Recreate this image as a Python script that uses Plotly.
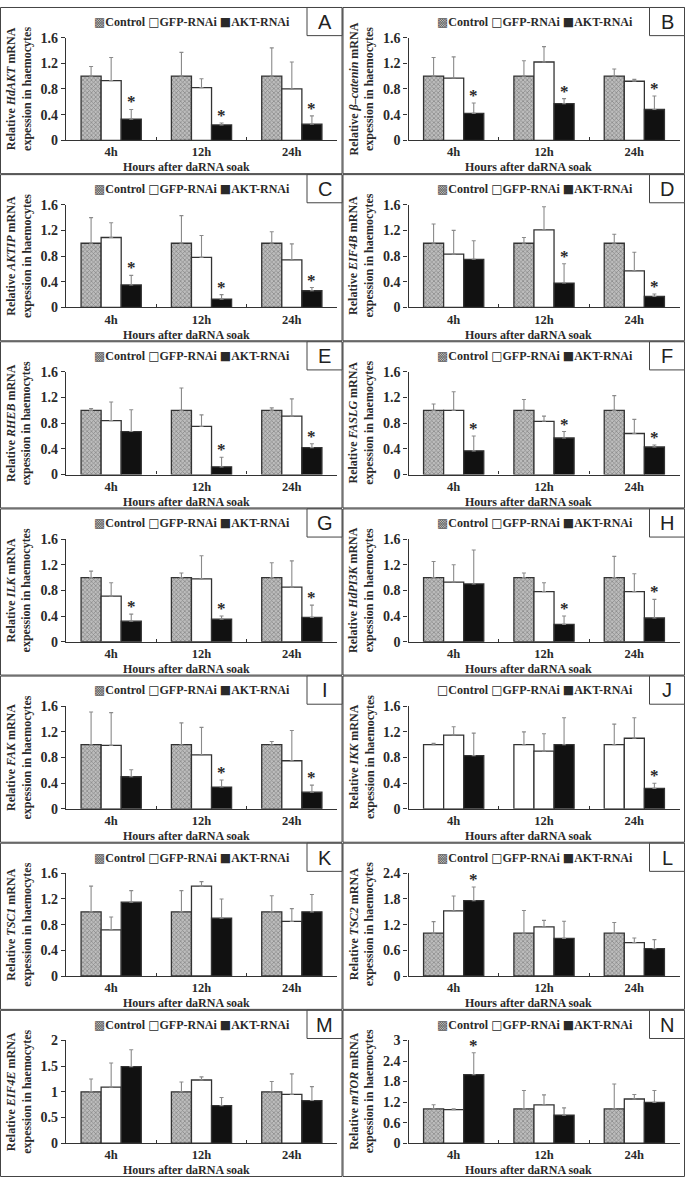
import plotly.graph_objects as go

hours = ["4h", "12h", "24h"]
groups = ["Control", "GFP-RNAi", "AKT-RNAi"]
panel_letters = ["A", "B", "C", "D", "E", "F", "G", "H", "I", "J", "K", "L", "M", "N"]
genes = ["HdAKT", "β–catenin", "AKTIP", "EIF4B", "RHEB", "FASLG", "ILK",
         "HdPI3K", "FAK", "IKK", "TSC1", "TSC2", "EIF4E", "mTOR"]
y_max = [1.6, 1.6, 1.6, 1.6, 1.6, 1.6, 1.6, 1.6, 1.6, 1.6, 1.6, 2.4, 2.0, 3.0]
y_dtick = [0.4, 0.4, 0.4, 0.4, 0.4, 0.4, 0.4, 0.4, 0.4, 0.4, 0.4, 0.6, 0.5, 0.6]

# mean relative expression (Control is the reference = 1)
A_ctrl = [1.0, 1.0, 1.0]; A_gfp = [0.93, 0.82, 0.80]; A_akt = [0.33, 0.24, 0.25]
B_ctrl = [1.0, 1.0, 1.0]; B_gfp = [0.97, 1.22, 0.92]; B_akt = [0.42, 0.57, 0.48]
C_ctrl = [1.0, 1.0, 1.0]; C_gfp = [1.09, 0.78, 0.74]; C_akt = [0.35, 0.13, 0.26]
D_ctrl = [1.0, 1.0, 1.0]; D_gfp = [0.83, 1.21, 0.57]; D_akt = [0.75, 0.38, 0.17]
E_ctrl = [1.0, 1.0, 1.0]; E_gfp = [0.84, 0.75, 0.91]; E_akt = [0.67, 0.12, 0.42]
F_ctrl = [1.0, 1.0, 1.0]; F_gfp = [1.00, 0.83, 0.64]; F_akt = [0.37, 0.57, 0.43]
G_ctrl = [1.0, 1.0, 1.0]; G_gfp = [0.71, 0.98, 0.85]; G_akt = [0.32, 0.35, 0.38]
H_ctrl = [1.0, 1.0, 1.0]; H_gfp = [0.93, 0.78, 0.78]; H_akt = [0.90, 0.27, 0.37]
I_ctrl = [1.0, 1.0, 1.0]; I_gfp = [0.99, 0.84, 0.75]; I_akt = [0.50, 0.34, 0.26]
J_ctrl = [1.0, 1.0, 1.0]; J_gfp = [1.15, 0.90, 1.10]; J_akt = [0.83, 1.00, 0.32]
K_ctrl = [1.0, 1.0, 1.0]; K_gfp = [0.72, 1.40, 0.85]; K_akt = [1.15, 0.90, 1.00]
L_ctrl = [1.0, 1.0, 1.0]; L_gfp = [1.52, 1.15, 0.78]; L_akt = [1.76, 0.88, 0.64]
M_ctrl = [1.0, 1.0, 1.0]; M_gfp = [1.09, 1.23, 0.95]; M_akt = [1.49, 0.73, 0.83]
N_ctrl = [1.0, 1.0, 1.0]; N_gfp = [0.98, 1.12, 1.29]; N_akt = [2.00, 0.82, 1.19]

# standard deviations (upper error bars)
A_ctrl_sd = [0.15, 0.37, 0.44]; A_gfp_sd = [0.36, 0.14, 0.42]; A_akt_sd = [0.15, 0.03, 0.13]
B_ctrl_sd = [0.29, 0.24, 0.11]; B_gfp_sd = [0.33, 0.24, 0.03]; B_akt_sd = [0.16, 0.08, 0.21]
C_ctrl_sd = [0.40, 0.43, 0.18]; C_gfp_sd = [0.23, 0.34, 0.25]; C_akt_sd = [0.15, 0.07, 0.05]
D_ctrl_sd = [0.30, 0.09, 0.14]; D_gfp_sd = [0.37, 0.36, 0.29]; D_akt_sd = [0.29, 0.30, 0.04]
E_ctrl_sd = [0.03, 0.35, 0.04]; E_gfp_sd = [0.29, 0.18, 0.27]; E_akt_sd = [0.34, 0.15, 0.06]
F_ctrl_sd = [0.10, 0.17, 0.23]; F_gfp_sd = [0.29, 0.08, 0.22]; F_akt_sd = [0.23, 0.10, 0.03]
G_ctrl_sd = [0.10, 0.07, 0.23]; G_gfp_sd = [0.21, 0.36, 0.41]; G_akt_sd = [0.11, 0.05, 0.19]
H_ctrl_sd = [0.25, 0.07, 0.33]; H_gfp_sd = [0.27, 0.14, 0.28]; H_akt_sd = [0.53, 0.13, 0.29]
I_ctrl_sd = [0.51, 0.34, 0.05]; I_gfp_sd = [0.51, 0.43, 0.47]; I_akt_sd = [0.11, 0.11, 0.11]
J_ctrl_sd = [0.02, 0.20, 0.32]; J_gfp_sd = [0.13, 0.27, 0.32]; J_akt_sd = [0.35, 0.42, 0.08]
K_ctrl_sd = [0.40, 0.33, 0.25]; K_gfp_sd = [0.20, 0.07, 0.20]; K_akt_sd = [0.18, 0.30, 0.27]
L_ctrl_sd = [0.27, 0.53, 0.25]; L_gfp_sd = [0.35, 0.15, 0.11]; L_akt_sd = [0.32, 0.40, 0.21]
M_ctrl_sd = [0.25, 0.19, 0.20]; M_gfp_sd = [0.47, 0.06, 0.40]; M_akt_sd = [0.33, 0.16, 0.27]
N_ctrl_sd = [0.12, 0.54, 0.73]; N_gfp_sd = [0.02, 0.29, 0.13]; N_akt_sd = [0.64, 0.21, 0.35]

# significance (*) of AKT-RNAi vs controls
A_sig = [1, 1, 1]; B_sig = [1, 1, 1]; C_sig = [1, 1, 1]; D_sig = [0, 1, 1]
E_sig = [0, 1, 1]; F_sig = [1, 1, 1]; G_sig = [1, 1, 1]; H_sig = [0, 1, 1]
I_sig = [0, 1, 1]; J_sig = [0, 0, 1]; K_sig = [0, 0, 0]; L_sig = [1, 0, 0]
M_sig = [0, 0, 0]; N_sig = [1, 0, 0]

g = globals()
W, H = 685, 1185
PW, PH = W / 2, H / 7
SERIF = "Liberation Serif, Times New Roman, serif"
SANS = "Liberation Sans, Arial, sans-serif"
SYM = "DejaVu Sans"
INK = "#2a2a2a"

fig = go.Figure()
shapes, annotations = [], []
layout = dict(width=W, height=H, margin=dict(l=0, r=0, t=0, b=0),
              paper_bgcolor="white", plot_bgcolor="white",
              barmode="group", bargap=1 / 3, bargroupgap=0.0, showlegend=False,
              font=dict(family=SERIF, color=INK))

for k, letter in enumerate(panel_letters):
    r, c = divmod(k, 2)
    x0, y0 = c * PW, r * PH
    n = k + 1
    sfx = "" if n == 1 else str(n)
    xa, ya = "x" + sfx, "y" + sfx

    means = [g[letter + "_ctrl"], g[letter + "_gfp"], g[letter + "_akt"]]
    sds = [g[letter + "_ctrl_sd"], g[letter + "_gfp_sd"], g[letter + "_akt_sd"]]
    sig = g[letter + "_sig"]

    plain_ctrl = (letter == "J")
    for gi, name in enumerate(groups):
        if gi == 0 and not plain_ctrl:
            marker = dict(color="#b4b4b4",
                          pattern=dict(shape="x", fgcolor="#4a4a4a", bgcolor="#bdbdbd",
                                       size=3, solidity=0.4),
                          line=dict(color="#333", width=1.3))
        elif gi == 2:
            marker = dict(color="#111", line=dict(color="#333", width=1.3))
        else:
            marker = dict(color="white", line=dict(color="#333", width=1.3))
        fig.add_trace(go.Bar(
            x=hours, y=means[gi], name=name, marker=marker,
            error_y=dict(type="data", symmetric=False, array=sds[gi],
                         arrayminus=[0, 0, 0], color="#8a8a8a", thickness=1.1, width=2),
            xaxis=xa, yaxis=ya))

    # domains
    dx = [(x0 + 66) / W, (x0 + 337) / W]
    dy = [1 - (y0 + 135) / H, 1 - (y0 + 31) / H]
    layout["xaxis" + sfx] = dict(
        domain=dx, anchor=ya, type="category", range=[-0.5, 2.5],
        showline=True, linecolor="#333", linewidth=1.4,
        ticks="inside", ticklen=3, tickcolor="#333", tickson="boundaries",
        tickfont=dict(family=SERIF, size=12.5, weight="bold", color=INK),
        ticklabelstandoff=0, showgrid=False, fixedrange=True)
    layout["yaxis" + sfx] = dict(
        domain=dy, anchor=xa, range=[0, y_max[k]], dtick=y_dtick[k], tick0=0,
        showline=True, linecolor="#333", linewidth=1.4,
        ticks="outside", ticklen=4, tickcolor="#333",
        tickfont=dict(family=SERIF, size=14, weight="bold", color=INK),
        showgrid=False, zeroline=False, fixedrange=True)

    # legend line (symbol glyph + series name)
    ctrl_sym = "□" if plain_ctrl else "▩"
    ctrl_col = "#222" if plain_ctrl else "#555"
    leg_text = (f"<span style='font-family:{SYM};color:{ctrl_col}'>{ctrl_sym}</span>{groups[0]} "
                f"<span style='font-family:{SYM}'>□</span>{groups[1]} "
                f"<span style='font-family:{SYM}'>■</span>{groups[2]}")
    annotations.append(dict(
        x=(x0 + 192) / W, y=1 - (y0 + 15) / H, xref="paper", yref="paper",
        text=leg_text, showarrow=False, xanchor="center", yanchor="middle",
        font=dict(family=SERIF, size=12, weight="bold", color=INK)))

    # significance stars
    for i, s in enumerate(sig):
        if s:
            annotations.append(dict(
                x=i + 2 / 9, y=means[2][i] + sds[2][i], xref=xa, yref=ya,
                text="*", showarrow=False, yanchor="bottom", yshift=-4,
                font=dict(family=SERIF, size=17, weight="bold", color=INK)))

    # y-axis title
    annotations.append(dict(
        x=(x0 + 19) / W, y=1 - (y0 + 83) / H, xref="paper", yref="paper",
        text="Relative <i>" + genes[k] + "</i> mRNA<br>expession in haemocytes",
        textangle=-90, showarrow=False, xanchor="center", yanchor="middle",
        font=dict(family=SERIF, size=12, weight="bold", color=INK)))
    # x-axis title
    annotations.append(dict(
        x=(x0 + 186) / W, y=1 - (y0 + 162.5) / H, xref="paper", yref="paper",
        text="Hours after daRNA soak", showarrow=False,
        xanchor="center", yanchor="middle",
        font=dict(family=SERIF, size=12, weight="bold", color=INK)))

    # panel frame
    shapes.append(dict(type="rect", xref="paper", yref="paper",
                       x0=(x0 + 0.5) / W, x1=(x0 + PW - 0.5) / W,
                       y0=1 - (y0 + PH - 0.5) / H, y1=1 - (y0 + 0.5) / H,
                       line=dict(color="#444", width=1)))
    # panel letter box
    shapes.append(dict(type="rect", xref="paper", yref="paper",
                       x0=(x0 + 307) / W, x1=(x0 + PW - 0.5) / W,
                       y0=1 - (y0 + 29) / H, y1=1 - (y0 + 0.5) / H,
                       line=dict(color="#444", width=1), fillcolor="white"))
    annotations.append(dict(
        x=(x0 + 324.5) / W, y=1 - (y0 + 15) / H, xref="paper", yref="paper",
        text=letter, showarrow=False, xanchor="center", yanchor="middle",
        font=dict(family=SANS, size=20, color="#222")))

layout["shapes"] = shapes
layout["annotations"] = annotations
fig.update_layout(**layout)

fig.write_html("out.html", config={"displayModeBar": False},
               post_script="document.body.style.margin='0';")
